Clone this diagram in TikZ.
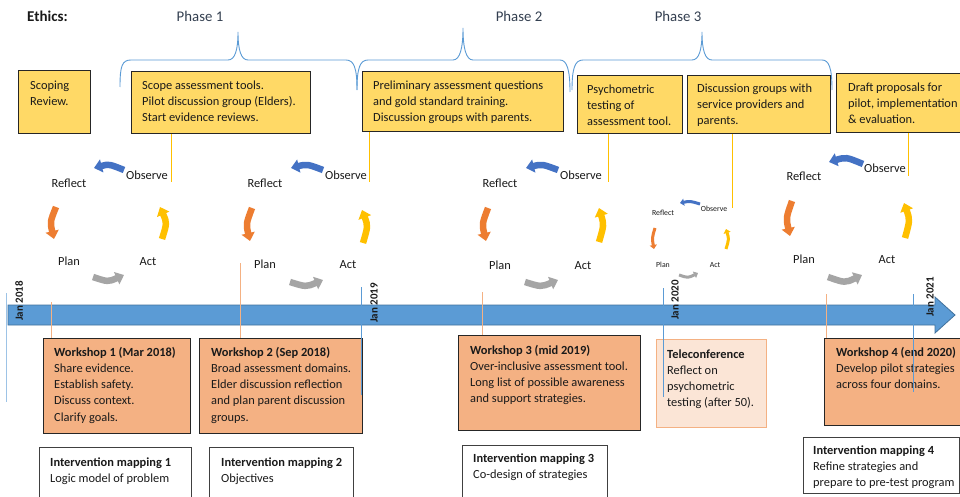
\documentclass[tikz,border=0pt]{standalone}
\usepackage{fontspec}
\setmainfont{Carlito}
\usetikzlibrary{arrows.meta}
\definecolor{yfill}{HTML}{FFD966}
\definecolor{wfill}{HTML}{F4B183}
\definecolor{tfill}{HTML}{FBE5D6}
\definecolor{tline}{HTML}{F4B183}
\definecolor{boxline}{HTML}{262626}
\definecolor{iline}{HTML}{404040}
\definecolor{txtc}{HTML}{1A1A1A}
\definecolor{headc}{HTML}{333F50}
\definecolor{bandc}{HTML}{5B9BD5}
\definecolor{bandline}{HTML}{41719C}
\definecolor{bracec}{HTML}{5B9BD5}
\definecolor{cblue}{HTML}{4472C4}
\definecolor{corange}{HTML}{ED7D31}
\definecolor{cgray}{HTML}{A5A5A5}
\definecolor{cyellow}{HTML}{FFC000}
\definecolor{wline}{HTML}{F4B183}
\definecolor{vline}{HTML}{5B9BD5}
\tikzset{
  yb/.style={draw=boxline, fill=yfill, line width=0.9pt, anchor=north west, inner sep=0pt},
  wb/.style={draw=boxline, fill=wfill, line width=0.9pt, anchor=north west, inner sep=0pt},
  tb/.style={draw=tline, fill=tfill, line width=1pt, anchor=north west, inner sep=0pt},
  ib/.style={draw=iline, fill=white, line width=0.9pt, anchor=north west, inner sep=0pt},
  txt/.style={font=\fontsize{12.4}{16.2}\selectfont, align=left, inner sep=0pt, anchor=north west, text=txtc},
  lbl/.style={font=\fontsize{12.4}{15}\selectfont, inner sep=0pt, anchor=base, text=txtc},
  slbl/.style={font=\fontsize{7.8}{9}\selectfont, inner sep=0pt, anchor=base, text=txtc},
  head/.style={font=\fontsize{14.8}{17}\selectfont, inner sep=0pt, anchor=base, text=headc},
  year/.style={font=\fontsize{11}{12}\selectfont\bfseries, inner sep=0pt, rotate=90, text=txtc},
  cyca/.style={line width=6.5pt, -{Triangle[width=13pt,length=8pt]}},
  scyca/.style={line width=3pt, -{Triangle[width=7pt,length=4pt]}},
  brc/.style={draw=bracec, line width=0.9pt},
  yconn/.style={draw=cyellow, line width=1pt},
  wconn/.style={draw=wline, line width=1pt},
  vconn/.style={draw=vline, line width=1pt}
}
\begin{document}
\begin{tikzpicture}[x=1pt,y=-1pt]
\clip (0,0) rectangle (960,497);
\fill[white] (0,0) rectangle (960,497);

% headings
\node[head, anchor=base west, font=\fontsize{15}{17}\selectfont\bfseries, text=txtc] (ethics) at (27,22) {Ethics:};
\node[head] (ph1) at (200,22) {Phase 1};
\node[head] (ph2) at (519,22) {Phase 2};
\node[head] (ph3) at (678,22) {Phase 3};

% braces
\draw[brc] (120,87) .. controls (120,66) and (122,60) .. (131,60) -- (228,60)
  .. controls (235,60) and (238,50) .. (238,32) .. controls (238,50) and (241,60) .. (248,60)
  -- (346,60) .. controls (354,60) and (357,68) .. (357,90);
\draw[brc] (357,90) .. controls (357,68) and (360,60) .. (368,60) -- (453,60)
  .. controls (460,60) and (463,48) .. (463,28) .. controls (463,48) and (466,60) .. (473,60)
  -- (560,60) .. controls (567,60) and (570,70) .. (570,92);
\draw[brc] (572,90) .. controls (572,68) and (575,60) .. (583,60) -- (692,60)
  .. controls (699,60) and (702,50) .. (702,32) .. controls (702,50) and (705,60) .. (712,60)
  -- (822,60) .. controls (829,60) and (832,68) .. (832,90);

% yellow boxes
\node[yb, minimum width=72pt, minimum height=63pt] (scope) at (18,70) {};
\node[txt] (scopet) at (30,77.7) {\strut Scoping\\Review.};
\node[yb, minimum width=179pt, minimum height=62pt] (tools) at (131,71) {};
\node[txt] (toolst) at (142,77.7) {\strut Scope assessment tools.\\Pilot discussion group (Elders).\\Start evidence reviews.};
\node[yb, minimum width=201pt, minimum height=60pt] (prelim) at (362,71) {};
\node[txt] (prelimt) at (373,77.7) {\strut Preliminary assessment questions\\and gold standard training.\\Discussion groups with parents.};
\node[yb, minimum width=105pt, minimum height=58pt] (psych) at (577,75) {};
\node[txt] (psycht) at (587,81.7) {\strut Psychometric\\testing of\\assessment tool.};
\node[yb, minimum width=143pt, minimum height=58pt] (disc) at (687,75) {};
\node[txt] (disct) at (697,80.7) {\strut Discussion groups with\\service providers and\\parents.};
\node[yb, minimum width=140pt, minimum height=59pt] (draft) at (836,73) {};
\node[txt] (draftt) at (848,79.7) {\strut Draft proposals for\\pilot, implementation\\\& evaluation.};

% connectors from yellow boxes
\coordinate (y1) at (171,182);
\coordinate (y2) at (369,182);
\coordinate (y3) at (608,182);
\coordinate (y4) at (732,208);
\coordinate (y5) at (908,176);
\draw[yconn] (tools.south -| y1) -- (y1);
\draw[yconn] (prelim.south -| y2) -- (y2);
\draw[yconn] (psych.south -| y3) -- (y3);
\draw[yconn] (disc.south -| y4) -- (y4);
\draw[yconn] (draft.south -| y5) -- (y5);

% cycle 1
\node[lbl] (r1) at (69,187) {Reflect};
\node[lbl] (o1) at (147,179) {Observe};
\node[lbl] (p1) at (69,265) {Plan};
\node[lbl] (a1) at (148,265) {Act};
\draw[cyca, cblue] (124,170) .. controls (109,164) .. (94,168);
\draw[cyca, corange] (56,207) .. controls (50,222) .. (54,239);
\draw[cyca, cgray] (93,277) .. controls (108,282) .. (124,275);
\draw[cyca, cyellow] (162,239) .. controls (167,223) .. (160,207);

% cycle 2
\node[lbl] (r2) at (265,187) {Reflect};
\node[lbl] (o2) at (346,179) {Observe};
\node[lbl] (p2) at (265,268) {Plan};
\node[lbl] (a2) at (348,268) {Act};
\draw[cyca, cblue] (323,170) .. controls (307,164) .. (291,168);
\draw[cyca, corange] (252,208) .. controls (246,224) .. (250,241);
\draw[cyca, cgray] (290,282) .. controls (306,287) .. (323,280);
\draw[cyca, cyellow] (363,243) .. controls (368,226) .. (362,210);

% cycle 3
\node[lbl] (r3) at (500,187) {Reflect};
\node[lbl] (o3) at (581,179) {Observe};
\node[lbl] (p3) at (500,269) {Plan};
\node[lbl] (a3) at (583,269) {Act};
\draw[cyca, cblue] (558,170) .. controls (542,164) .. (526,168);
\draw[cyca, corange] (488,208) .. controls (482,224) .. (486,241);
\draw[cyca, cgray] (525,282) .. controls (541,287) .. (558,280);
\draw[cyca, cyellow] (599,242) .. controls (604,225) .. (599,208);

% cycle 4 (small)
\node[slbl] (r4) at (663,215) {Reflect};
\node[slbl] (o4) at (714,211) {Observe};
\node[slbl] (p4) at (663,267) {Plan};
\node[slbl] (a4) at (715,267) {Act};
\draw[scyca, cblue] (700,204) .. controls (690,201) .. (680,203);
\draw[scyca, corange] (655,228) .. controls (652,238) .. (654,249);
\draw[scyca, cgray] (679,275) .. controls (688,278) .. (698,273);
\draw[scyca, cyellow] (726,249) .. controls (729,239) .. (726,229);

% cycle 5
\node[lbl] (r5) at (804,181) {Reflect};
\node[lbl] (o5) at (885,173) {Observe};
\node[lbl] (p5) at (804,263) {Plan};
\node[lbl] (a5) at (887,263) {Act};
\draw[cyca, cblue] (863,164) .. controls (846,157) .. (829,162);
\draw[cyca, corange] (792,201) .. controls (786,218) .. (790,236);
\draw[cyca, cgray] (828,277) .. controls (845,283) .. (862,275);
\draw[cyca, cyellow] (905,238) .. controls (910,220) .. (904,203);

% timeline band
\draw[fill=bandc, draw=bandline, line width=0.8pt]
  (8,305) -- (935,305) -- (935,297) -- (955,315) -- (935,333) -- (935,325) -- (8,325) -- cycle;

% workshop boxes
\node[wb, minimum width=147pt, minimum height=95pt] (w1) at (43,338) {};
\node[txt] (w1t) at (54,344.7) {\strut\textbf{Workshop 1 (Mar 2018)}\\Share evidence.\\Establish safety.\\Discuss context.\\Clarify goals.};
\node[wb, minimum width=163pt, minimum height=95pt] (w2) at (199,338) {};
\node[txt] (w2t) at (211,344.7) {\strut\textbf{Workshop 2 (Sep 2018)}\\Broad assessment domains.\\Elder discussion reflection\\and plan parent discussion\\groups.};
\node[wb, minimum width=182pt, minimum height=95pt] (w3) at (458,335) {};
\node[txt] (w3t) at (470,342.7) {\strut\textbf{Workshop 3 (mid 2019)}\\Over-inclusive assessment tool.\\Long list of possible awareness\\and support strategies.};
\node[tb, minimum width=110pt, minimum height=88pt] (tele) at (656,339) {};
\node[txt] (telet) at (667,346.7) {\strut\textbf{Teleconference}\\Reflect on\\psychometric\\testing (after 50).};
\node[wb, minimum width=150pt, minimum height=87pt] (w4) at (824,338) {};
\node[txt] (w4t) at (836,344.7) {\strut\textbf{Workshop 4 (end 2020)}\\Develop pilot strategies\\across four domains.};

% intervention mapping boxes
\node[ib, minimum width=152pt, minimum height=70pt] (im1) at (39,447) {};
\node[txt] (im1t) at (50,454.7) {\strut\textbf{Intervention mapping 1}\\Logic model of problem};
\node[ib, minimum width=144pt, minimum height=70pt] (im2) at (209,447) {};
\node[txt] (im2t) at (221,454.7) {\strut\textbf{Intervention mapping 2}\\Objectives};
\node[ib, minimum width=145pt, minimum height=70pt] (im3) at (462,445) {};
\node[txt] (im3t) at (473,450.7) {\strut\textbf{Intervention mapping 3}\\Co-design of strategies};
\node[ib, minimum width=156pt, minimum height=56pt] (im4) at (803,437) {};
\node[txt] (im4t) at (813,442.7) {\strut\textbf{Intervention mapping 4}\\Refine strategies and\\prepare to pre-test program};

% workshop connectors
\coordinate (wc1) at (51,302);
\coordinate (wc2) at (240,263);
\coordinate (wc3) at (482,292);
\coordinate (wc4) at (826,294);
\draw[wconn] (wc1) -- (w1.north -| wc1);
\draw[wconn] (wc2) -- (w2.north -| wc2);
\draw[wconn] (wc3) -- (w3.north -| wc3);
\draw[wconn] (wc4) -- (w4.north -| wc4);

% year markers
\coordinate (v0a) at (6,293);   \coordinate (v0b) at (6,402);
\coordinate (v1a) at (361,287); \coordinate (v1b) at (361,395);
\coordinate (v2a) at (663,288); \coordinate (v2b) at (663,397);
\coordinate (v3a) at (913,294); \coordinate (v3b) at (913,392);
\draw[vconn, draw=vline!60] (v0a) -- (v0b);
\draw[vconn] (v1a) -- (v1b);
\draw[vconn] (v2a) -- (v2b);
\draw[vconn] (v3a) -- (v3b);

\node[year] (j18) at (19,301) {Jan 2018};
\node[year] (j19) at (374,303) {Jan 2019};
\node[year] (j20) at (675,300) {Jan 2020};
\node[year] (j21) at (930,297) {Jan 2021};
\end{tikzpicture}
\end{document}
